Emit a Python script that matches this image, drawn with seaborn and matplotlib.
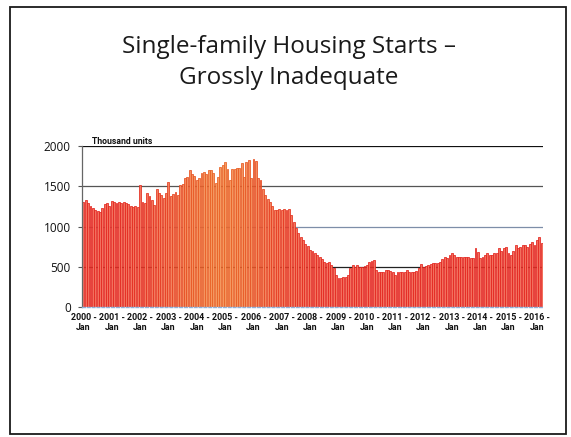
import numpy as np
import pandas as pd
import matplotlib
matplotlib.use("Agg")
import matplotlib.pyplot as plt
from matplotlib.patches import Rectangle
from matplotlib.colors import to_rgb
import seaborn as sns

# Single-family housing starts, thousand units (SAAR), monthly Jan 2000 - Mar 2016
starts_2000 = [1300, 1330, 1290, 1260, 1230, 1210, 1190, 1180, 1230, 1280, 1290, 1260]
starts_2001 = [1320, 1300, 1290, 1310, 1290, 1300, 1290, 1280, 1250, 1240, 1250, 1240]
starts_2002 = [1520, 1300, 1290, 1410, 1380, 1330, 1270, 1460, 1420, 1390, 1350, 1420]
starts_2003 = [1550, 1380, 1400, 1430, 1390, 1510, 1530, 1600, 1610, 1700, 1650, 1630]
starts_2004 = [1580, 1600, 1670, 1680, 1650, 1700, 1700, 1660, 1540, 1620, 1740, 1760]
starts_2005 = [1800, 1720, 1580, 1720, 1720, 1730, 1730, 1785, 1610, 1805, 1826, 1600]
starts_2006 = [1834, 1818, 1600, 1580, 1470, 1390, 1340, 1300, 1250, 1210, 1200, 1220]
starts_2007 = [1210, 1220, 1210, 1220, 1140, 1060, 977, 915, 870, 832, 780, 760]
starts_2008 = [708, 690, 670, 646, 620, 600, 563, 542, 563, 520, 480, 400]
starts_2009 = [360, 356, 370, 377, 397, 480, 522, 501, 522, 501, 501, 510]
starts_2010 = [522, 563, 570, 584, 460, 439, 439, 440, 460, 460, 450, 439]
starts_2011 = [400, 439, 439, 430, 439, 460, 439, 430, 439, 450, 480, 530]
starts_2012 = [501, 510, 522, 530, 542, 542, 542, 563, 600, 625, 605, 640]
starts_2013 = [667, 640, 625, 625, 625, 625, 625, 615, 605, 605, 729, 680]
starts_2014 = [605, 620, 646, 667, 646, 640, 667, 667, 729, 700, 729, 750]
starts_2015 = [667, 646, 700, 770, 729, 750, 770, 770, 750, 780, 812, 770]
starts_2016 = [830, 874, 791]

years = list(range(2000, 2017))
month_names = ["Jan", "Feb", "Mar", "Apr", "May", "Jun",
               "Jul", "Aug", "Sep", "Oct", "Nov", "Dec"]
y_ticks = [0, 500, 1000, 1500, 2000]

series = [starts_2000, starts_2001, starts_2002, starts_2003, starts_2004,
          starts_2005, starts_2006, starts_2007, starts_2008, starts_2009,
          starts_2010, starts_2011, starts_2012, starts_2013, starts_2014,
          starts_2015, starts_2016]

rows = []
for yr, vals in zip(years, series):
    for i, v in enumerate(vals):
        rows.append({"period": f"{yr} - {month_names[i]}", "starts": v})
df = pd.DataFrame(rows)
n = len(df)

plt.rcParams["font.family"] = ["Open Sans", "DejaVu Sans"]
fig = plt.figure(figsize=(5.71, 4.37), dpi=100)
fig.patch.set_facecolor("white")

ax = fig.add_axes([82 / 571, 1 - 307 / 437, 461 / 571, 161 / 437])
ax.set_facecolor("white")

# horizontal guide lines behind the bars
grid_colors = {500: "#222222", 1000: "#7d8ea8", 1500: "#555555", 2000: "#111111"}
for yv, c in grid_colors.items():
    ax.axhline(yv, color=c, lw=0.9, zorder=0)

sns.barplot(data=df, x="period", y="starts", color="#e8402f", width=0.8,
            ax=ax, zorder=2, saturation=1)

# salmon bars with red outlines, drifting toward orange through the boom years
fill_red = np.array(to_rgb("#f2705e"))
fill_orange = np.array(to_rgb("#f4a060"))
edge_red = np.array(to_rgb("#e3221c"))
edge_orange = np.array(to_rgb("#ea6a22"))
for i, p in enumerate(ax.patches):
    w = 0.85 * np.exp(-((i - 58) / 24.0) ** 2)
    fc = (1 - w) * fill_red + w * fill_orange
    ec = (1 - w) * edge_red + w * edge_orange
    p.set_facecolor(np.clip(fc, 0, 1))
    p.set_edgecolor(np.clip(ec, 0, 1))
    p.set_linewidth(0.55)

ax.set_xlim(-0.6, n - 0.4)
ax.set_ylim(0, 2000)
ax.set_yticks(y_ticks)
ax.set_yticklabels([str(t) for t in y_ticks], fontsize=8.5, color="#111111")
ax.tick_params(axis="y", length=3, width=0.8, color="#555555", pad=5)

tick_pos = list(range(0, n, 12))
ax.set_xticks(tick_pos)
ax.set_xticklabels([f"{yr} -\nJan" for yr in years], fontsize=6.4,
                   fontweight="bold", linespacing=1.25, color="#111111",
                   family=["Roboto", "DejaVu Sans"])
ax.tick_params(axis="x", length=0, pad=4)
ax.set_xlabel("")
ax.set_ylabel("")

for s in ["top", "right"]:
    ax.spines[s].set_visible(False)
ax.spines["left"].set_color("#666666")
ax.spines["left"].set_linewidth(0.9)
ax.spines["bottom"].set_color("#8fb0d8")
ax.spines["bottom"].set_linewidth(1.0)
ax.spines["bottom"].set_linestyle((0, (2, 1.5)))
ax.spines["bottom"].set_zorder(3)

ax.text(10 / 461, 1.0, "Thousand units", transform=ax.transAxes,
        fontsize=6.2, fontweight="bold", ha="left", va="bottom",
        color="#111111", family=["Roboto", "DejaVu Sans"])

# slide title
fig.text(289 / 571, 1 - 47 / 437, "Single-family Housing Starts \u2013",
         fontsize=17.5, ha="center", va="center", color="#1a1a1a")
fig.text(289 / 571, 1 - 78 / 437, "Grossly Inadequate",
         fontsize=17.5, ha="center", va="center", color="#1a1a1a")

# slide frame
fig.patches.append(Rectangle((10 / 571, 1 - 434 / 437), 556 / 571, 427 / 437,
                             transform=fig.transFigure, fill=False,
                             edgecolor="#1a1a1a", linewidth=1.3))

fig.savefig("out.png", dpi=100, facecolor="white")
